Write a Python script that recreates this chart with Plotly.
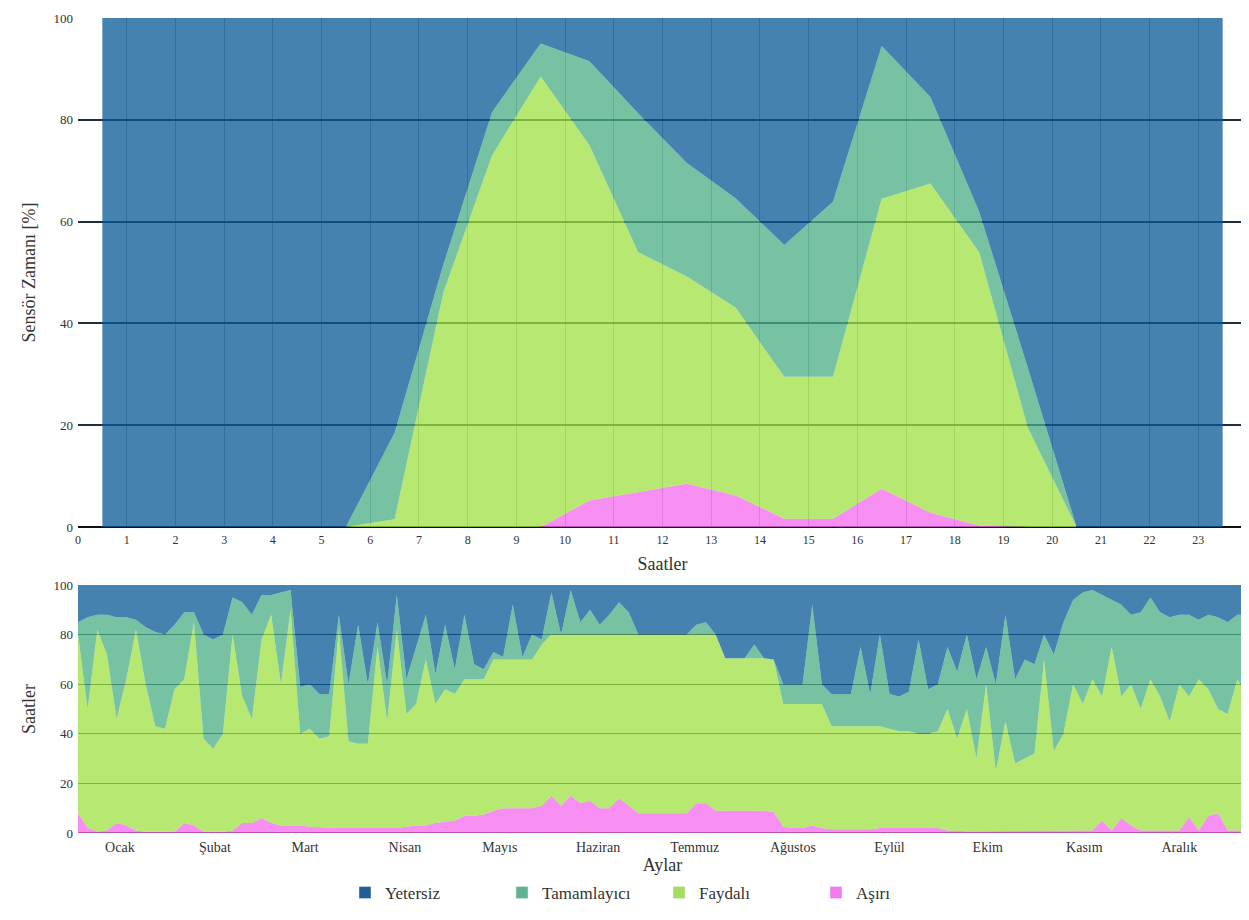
import plotly.graph_objects as go
from plotly.subplots import make_subplots

# ---------------- Top chart: hourly shares (%) ----------------
saat = [h + 0.5 for h in range(24)]
asiri_saat = [0, 0, 0, 0, 0, 0, 0, 0, 0, 0, 5.2, 6.9, 8.5, 6.2, 1.6, 1.6, 7.5, 2.8, 0.3, 0, 0, 0, 0, 0]
faydali_saat = [0, 0, 0, 0, 0, 0, 1.5, 46, 73, 88.5, 69.8, 47.1, 40.7, 36.9, 27.9, 27.9, 57.0, 64.7, 53.7, 19.5, 0, 0, 0, 0]
tamamlayici_saat = [0, 0, 0, 0, 0, 0, 17.0, 5.5, 8.5, 6.5, 16.5, 27.3, 22.3, 21.5, 25.9, 34.4, 30.0, 17.0, 8.0, 11.8, 0, 0, 0, 0]
yetersiz_saat = [100, 100, 100, 100, 100, 100, 81.5, 48.5, 18.5, 5.0, 8.5, 18.7, 28.5, 35.4, 44.6, 36.1, 5.5, 15.5, 38.0, 68.7, 100, 100, 100, 100]

# ---------------- Bottom chart: day of year, stack boundaries ----------------
gun = [1.5 + 3 * i for i in range(122)]
asiri_ust = [
    8, 2, 0.6, 1, 4, 3, 1, 0.5, 0.5, 0.5, 0.5, 4, 3, 0.5, 0.5, 0.5, 1, 4, 4, 6,
    4, 3, 3, 3, 2.5, 2.3, 2.3, 2, 2, 2, 2, 2, 2, 2, 2.5, 3, 3, 4, 4.5, 5, 7, 7,
    7.5, 9, 10, 10, 10, 10, 11, 15, 11, 15, 12, 13, 10, 10, 14, 11, 8, 8, 8, 8,
    8, 8, 12, 12, 9, 9, 9, 9, 9, 9, 8.5, 2.5, 2, 2, 3, 2, 1.5, 1.5, 1.5, 1.5, 1.5,
    2, 2, 2, 2, 2, 2, 2, 1, 0.7, 0.7, 0.7, 0.7, 0.7, 0.7, 0.7, 0.7, 0.7, 0.7, 0.7, 0.7,
    0.7, 0.7, 1, 5, 1, 6, 3, 1, 1, 1, 1, 1, 6.5, 1, 7, 8, 1, 1, 1]
faydali_ust = [
    80, 50, 82, 72, 46, 62, 82, 60, 43, 42, 58, 62, 85, 38, 34, 40, 80, 55, 46, 78,
    88, 60, 90, 40, 42, 38, 39, 82, 37, 36, 36, 75, 45, 82, 48, 52, 70, 52, 58, 56, 62, 62,
    62, 70, 70, 70, 70, 70, 76, 80, 80, 80, 80, 80, 80, 80, 80, 80, 80, 80, 80, 80,
    80, 80, 80, 80, 80, 70.5, 70.5, 70.5, 70.5, 70.5, 70, 52, 52, 52, 52, 52, 43, 43, 43, 43, 43,
    43, 42, 41, 41, 40, 40, 41, 50, 38, 50, 30, 60, 25, 45, 28, 30, 32, 70, 33, 40,
    60, 52, 62, 55, 75, 55, 60, 50, 62, 55, 45, 60, 55, 62, 58, 50, 48, 62, 55]
tamamlayici_ust = [
    85, 87, 88, 88, 87, 87, 86, 83, 81, 80, 84, 89, 89, 80, 78, 80, 95, 93, 88, 96,
    96, 97, 98, 59, 60, 56, 56, 88, 60, 84, 60, 85, 60, 96, 62, 75, 88, 64, 84, 66, 88, 68,
    66, 73, 71, 92, 71, 80, 78, 97, 80, 98, 85, 90, 84, 88, 93, 89, 80, 80, 80, 80,
    80, 80, 84, 85, 80, 70.5, 70.5, 70.5, 76, 70.5, 70, 60, 60, 60, 92, 60, 56, 56, 56, 75, 56,
    80, 56, 55, 57, 78, 58, 60, 75, 65, 80, 62, 75, 60, 88, 62, 70, 68, 80, 72, 85,
    94, 97, 98, 96, 94, 92, 88, 89, 95, 89, 87, 88, 88, 86, 88, 87, 85, 88, 88]

asiri_gun = asiri_ust
faydali_gun = [f - a for f, a in zip(faydali_ust, asiri_ust)]
tamamlayici_gun = [t - f for t, f in zip(tamamlayici_ust, faydali_ust)]
yetersiz_gun = [100 - t for t in tamamlayici_ust]

ay_adlari = ["Ocak", "Şubat", "Mart", "Nisan", "Mayıs", "Haziran", "Temmuz",
             "Ağustos", "Eylül", "Ekim", "Kasım", "Aralık"]
ay_etiket_gun = [14.5, 44, 72, 103, 132.5, 163, 193, 223.5, 253.5, 284, 314, 343.5]

seriler = ["Aşırı", "Faydalı", "Tamamlayıcı", "Yetersiz"]
dolgu = {
    "Yetersiz": "rgba(8,88,150,0.75)",
    "Tamamlayıcı": "rgba(75,174,134,0.75)",
    "Faydalı": "rgba(158,224,67,0.75)",
    "Aşırı": "rgba(244,104,238,0.75)",
}
lejant_renk = {
    "Yetersiz": "#1f5f96",
    "Tamamlayıcı": "#5fb48f",
    "Faydalı": "#a6de5c",
    "Aşırı": "#f47aee",
}

fig = make_subplots(rows=2, cols=1, vertical_spacing=0.0)

ust_veri = {"Aşırı": asiri_saat, "Faydalı": faydali_saat,
            "Tamamlayıcı": tamamlayici_saat, "Yetersiz": yetersiz_saat}
alt_veri = {"Aşırı": asiri_gun, "Faydalı": faydali_gun,
            "Tamamlayıcı": tamamlayici_gun, "Yetersiz": yetersiz_gun}

for ad in seriler:
    fig.add_trace(go.Scatter(
        x=saat, y=ust_veri[ad], name=ad, mode="lines", stackgroup="ust",
        line=dict(width=0, color=dolgu[ad]), fillcolor=dolgu[ad],
        legendgroup=ad, showlegend=False, hoverinfo="x+y+name"), row=1, col=1)
for ad in seriler:
    fig.add_trace(go.Scatter(
        x=gun, y=alt_veri[ad], name=ad, mode="lines", stackgroup="alt",
        line=dict(width=0, color=dolgu[ad]), fillcolor=dolgu[ad],
        legendgroup=ad, showlegend=False, hoverinfo="x+y+name"), row=2, col=1)
# legend entries (square swatches)
for ad in seriler:
    fig.add_trace(go.Bar(x=[None], y=[None], name=ad, marker_color=lejant_renk[ad],
                         legendgroup=ad, showlegend=True), row=1, col=1)

serif = "Liberation Serif"
ytick_font = dict(family=serif, size=13, color="#333")
xtick_font = dict(family=serif, size=12, color="#333")
month_font = dict(family=serif, size=14, color="#333")
title_font = dict(family=serif, size=18, color="#333")

fig.update_layout(
    width=1241, height=912,
    margin=dict(l=70, r=2, t=10, b=87, autoexpand=False),
    paper_bgcolor="white", plot_bgcolor="white",
    font=dict(family=serif, color="#333"),
    showlegend=True,
    legend=dict(orientation="h", x=0.497, xanchor="center", y=-0.0736, yanchor="middle",
                traceorder="reversed", font=dict(family=serif, size=17, color="#333"),
                itemwidth=30, entrywidth=112, entrywidthmode="pixels",
                itemclick=False, itemdoubleclick=False),
    xaxis=dict(domain=[0, 1], range=[0, 24], dtick=1, tick0=0, automargin=False,
               showgrid=True, gridcolor="rgba(20,40,60,0.35)", gridwidth=1,
               zeroline=False, showline=False, ticks="", ticklabelstandoff=4,
               tickfont=xtick_font, title=dict(text="Saatler", font=title_font, standoff=11)),
    yaxis=dict(domain=[0.3755, 1], range=[0, 100], dtick=20, automargin=False,
               showgrid=True, gridcolor="#1f2f3f", gridwidth=2,
               zeroline=True, zerolinecolor="#111", zerolinewidth=2,
               ticks="", tickfont=ytick_font, ticklabelstandoff=4,
               title=dict(text="Sensör Zamanı [%]", font=title_font, standoff=13)),
    xaxis2=dict(domain=[0, 1], range=[gun[0], gun[-1]], automargin=False,
                tickvals=ay_etiket_gun, ticktext=ay_adlari,
                showgrid=False, zeroline=False, ticks="", ticklabelstandoff=4,
                tickfont=month_font, title=dict(text="Aylar", font=title_font, standoff=3)),
    yaxis2=dict(domain=[0, 0.3043], range=[0, 100], dtick=20, automargin=False,
                showgrid=True, gridcolor="#1f2f3f", gridwidth=1,
                zeroline=True, zerolinecolor="#111", zerolinewidth=1,
                ticks="", tickfont=ytick_font, ticklabelstandoff=4,
                title=dict(text="Saatler", font=title_font, standoff=13)),
)

fig.write_html("out.html")
